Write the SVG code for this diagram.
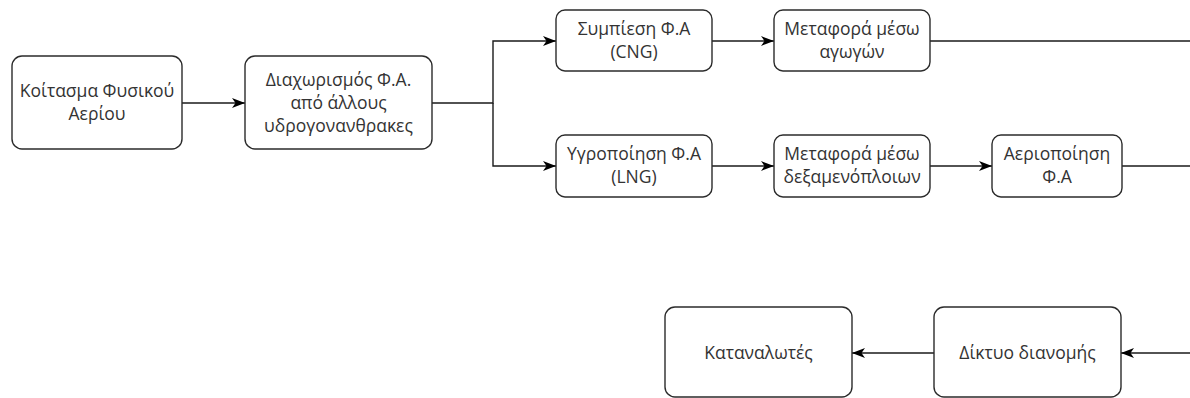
<svg xmlns="http://www.w3.org/2000/svg" width="1190" height="398" viewBox="0 0 1190 398">
  <style>
    .box { fill: #ffffff; stroke: #2b2b2b; stroke-width: 1.4; }
    .lbl { font-family: "Open Sans", "Noto Sans", "DejaVu Sans", sans-serif; font-size: 17.5px; fill: #333333; text-anchor: middle; }
    .edge { fill: none; stroke: #1a1a1a; stroke-width: 1.4; }
  </style>
  <defs>
    <marker id="arrow" markerUnits="userSpaceOnUse" viewBox="0 0 13 10" refX="13" refY="5" markerWidth="13" markerHeight="10" orient="auto">
      <path d="M0,0 L13,5 L0,10 L3.5,5 Z" fill="#000000"/>
    </marker>
  </defs>
  <rect width="1190" height="398" fill="#ffffff"/>

  <g id="connectors">
    <path class="edge" d="M182,103 H245" marker-end="url(#arrow)"/>
    <path class="edge" d="M432,103 H493 V41 H556" marker-end="url(#arrow)"/>
    <path class="edge" d="M493,103 V166 H556" marker-end="url(#arrow)"/>
    <path class="edge" d="M712,41 H774" marker-end="url(#arrow)"/>
    <path class="edge" d="M712,166 H774" marker-end="url(#arrow)"/>
    <path class="edge" d="M930,41 H1192"/>
    <path class="edge" d="M930,166 H992" marker-end="url(#arrow)"/>
    <path class="edge" d="M1122,166 H1192"/>
    <path class="edge" d="M1192,353 H1121" marker-end="url(#arrow)"/>
    <path class="edge" d="M934,353 H852" marker-end="url(#arrow)"/>
  </g>

  <g id="deposit">
    <rect class="box" x="12" y="56" width="170" height="93" rx="10"/>
    <text class="lbl" x="97" y="97">Κοίτασμα Φυσικού</text>
    <text class="lbl" x="97" y="120">Αερίου</text>
  </g>

  <g id="separation">
    <rect class="box" x="245" y="56" width="187" height="93" rx="10"/>
    <text class="lbl" x="338.5" y="86">Διαχωρισμός Φ.Α.</text>
    <text class="lbl" x="338.5" y="109">από άλλους</text>
    <text class="lbl" x="338.5" y="132">υδρογονανθρακες</text>
  </g>

  <g id="cng">
    <rect class="box" x="556" y="10" width="156" height="61" rx="9"/>
    <text class="lbl" x="634" y="35">Συμπίεση Φ.Α</text>
    <text class="lbl" x="634" y="58">(CNG)</text>
  </g>

  <g id="pipeline">
    <rect class="box" x="774" y="10" width="156" height="61" rx="9"/>
    <text class="lbl" x="852" y="35">Μεταφορά μέσω</text>
    <text class="lbl" x="852" y="58">αγωγών</text>
  </g>

  <g id="lng">
    <rect class="box" x="556" y="135" width="156" height="62" rx="9"/>
    <text class="lbl" x="634" y="160">Υγροποίηση Φ.Α</text>
    <text class="lbl" x="634" y="183">(LNG)</text>
  </g>

  <g id="tanker">
    <rect class="box" x="774" y="135" width="156" height="62" rx="9"/>
    <text class="lbl" x="852" y="160">Μεταφορά μέσω</text>
    <text class="lbl" x="852" y="183">δεξαμενόπλοιων</text>
  </g>

  <g id="regasification">
    <rect class="box" x="992" y="135" width="130" height="62" rx="9"/>
    <text class="lbl" x="1057" y="160">Αεριοποίηση</text>
    <text class="lbl" x="1057" y="183">Φ.Α</text>
  </g>

  <g id="consumers">
    <rect class="box" x="665" y="307" width="187" height="90" rx="10"/>
    <text class="lbl" x="758.5" y="359">Καταναλωτές</text>
  </g>

  <g id="distribution">
    <rect class="box" x="934" y="307" width="187" height="90" rx="10"/>
    <text class="lbl" x="1027.5" y="359">Δίκτυο διανομής</text>
  </g>
</svg>
